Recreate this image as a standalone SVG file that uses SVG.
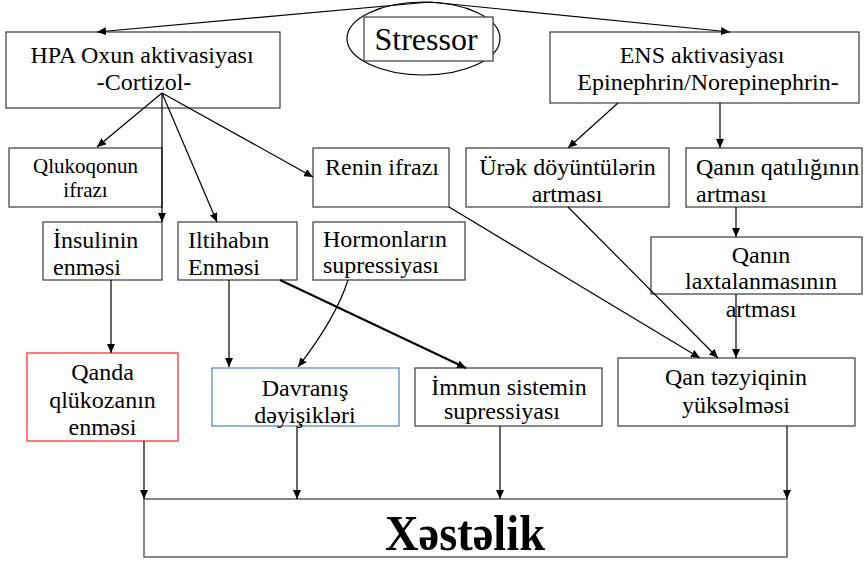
<svg xmlns="http://www.w3.org/2000/svg" width="866" height="562" viewBox="0 0 866 562">
<style>
.box{fill:#fff;stroke:#3a3a3a;stroke-width:1.2}
.red{fill:#fff;stroke:#ff2020;stroke-width:1.2}
.blue{fill:#fff;stroke:#4f81bd;stroke-width:1.2}
.gray{fill:#fff;stroke:#555;stroke-width:1.4}
text{font-family:"Liberation Serif","DejaVu Serif",serif;font-size:24px;fill:#000}
.c{text-anchor:middle}
.s{text-anchor:start}
.con{fill:none;stroke:#000;stroke-width:1.2;marker-end:url(#ah)}
</style>
<defs>
<marker id="ah" markerUnits="userSpaceOnUse" markerWidth="10" markerHeight="8" refX="9" refY="4" orient="auto">
<path d="M0,0 L9,4 L0,8 z" fill="#000"/>
</marker>
</defs>
<rect width="866" height="562" fill="#fff"/>

<g id="stressor">
<ellipse cx="423.5" cy="38.5" rx="76.5" ry="36.5" fill="#fff" stroke="#000" stroke-width="1.2"/>
<rect class="box" x="364" y="17" width="129" height="44"/>
<text class="c" x="426" y="50" style="font-size:32px">Stressor</text>
</g>

<g id="hpa">
<rect class="box" x="6" y="32" width="274" height="76"/>
<text class="c" x="142" y="63">HPA Oxun aktivasiyası</text>
<text class="c" x="144" y="90">-Cortizol-</text>
</g>

<g id="ens">
<rect class="box" x="550" y="32" width="309" height="71"/>
<text class="c" x="702" y="63">ENS aktivasiyası</text>
<text class="c" x="708" y="90">Epinephrin/Norepinephrin-</text>
</g>

<g id="qlukoqonun">
<rect class="box" x="9" y="148" width="153" height="59"/>
<text class="c" x="85.5" y="173" style="font-size:21px">Qlukoqonun</text>
<text class="c" x="85.5" y="197" style="font-size:21px">ifrazı</text>
</g>

<g id="renin">
<rect class="box" x="313" y="148" width="136" height="59"/>
<text class="s" x="325" y="175">Renin ifrazı</text>
</g>

<g id="urek">
<rect class="box" x="466" y="148" width="203" height="59"/>
<text class="c" x="567.5" y="175">Ürək döyüntülərin</text>
<text class="c" x="567" y="202">artması</text>
</g>

<g id="qatiliq">
<rect class="box" x="686" y="148" width="176" height="59"/>
<text class="s" x="696" y="175">Qanın qatılığının</text>
<text class="s" x="696" y="202">artması</text>
</g>

<g id="insulin">
<rect class="box" x="43" y="222" width="119" height="58"/>
<text class="s" x="53" y="248">İnsulinin</text>
<text class="s" x="53" y="275">enməsi</text>
</g>

<g id="iltihab">
<rect class="box" x="178" y="222" width="119" height="58"/>
<text class="s" x="188" y="248">Iltihabın</text>
<text class="s" x="188" y="275">Enməsi</text>
</g>

<g id="hormon">
<rect class="box" x="313" y="222" width="152" height="58"/>
<text class="s" x="323" y="247">Hormonların</text>
<text class="s" x="323" y="273">supressiyası</text>
</g>

<g id="laxtalanma">
<rect class="box" x="651" y="237" width="211" height="57"/>
<text class="c" x="761" y="263">Qanın</text>
<text class="c" x="761" y="289">laxtalanmasının</text>
<text class="c" x="761" y="317">artması</text>
</g>

<g id="qanda">
<rect class="red" x="27" y="353" width="151" height="88"/>
<text class="c" x="102.5" y="380">Qanda</text>
<text class="c" x="102.5" y="408">qlükozanın</text>
<text class="c" x="102.5" y="435">enməsi</text>
</g>

<g id="davranis">
<rect class="blue" x="212" y="368" width="187" height="58"/>
<text class="c" x="305" y="396">Davranış</text>
<text class="c" x="305" y="423">dəyişikləri</text>
</g>

<g id="immun">
<rect class="box" x="415" y="368" width="187" height="58"/>
<text class="c" x="509" y="395">İmmun sistemin</text>
<text class="c" x="502" y="419">supressiyası</text>
</g>

<g id="tezyiq">
<rect class="box" x="618" y="358" width="237" height="68"/>
<text class="c" x="736" y="385">Qan təzyiqinin</text>
<text class="c" x="736" y="413">yüksəlməsi</text>
</g>

<g id="xestelik">
<rect class="gray" x="144" y="499" width="643" height="58"/>
<text class="c" x="465" y="550" style="font-size:50px;font-weight:bold" textLength="160" lengthAdjust="spacingAndGlyphs">Xəstəlik</text>
</g>

<g id="connectors">
<line class="con" x1="430" y1="2" x2="97" y2="32"/>
<line class="con" x1="430" y1="2" x2="730" y2="32"/>
<line class="con" x1="162" y1="93" x2="97" y2="147"/>
<line class="con" x1="162" y1="93" x2="162" y2="222"/>
<line class="con" x1="162" y1="93" x2="217" y2="222"/>
<line class="con" x1="162" y1="93" x2="313" y2="177"/>
<line class="con" x1="618" y1="103" x2="568" y2="148"/>
<line class="con" x1="720" y1="103" x2="720" y2="148"/>
<line class="con" x1="736" y1="207" x2="736" y2="237"/>
<line class="con" x1="736" y1="294" x2="736" y2="358"/>
<line class="con" x1="449" y1="207" x2="700" y2="358"/>
<line class="con" x1="568" y1="207" x2="718" y2="358"/>
<line class="con" x1="111" y1="280" x2="111" y2="353"/>
<line class="con" x1="229" y1="280" x2="229" y2="367"/>
<line class="con" x1="280" y1="280" x2="466" y2="368" style="stroke-width:2"/>
<path class="con" d="M348,280 Q336,318 298,367"/>
<line class="con" x1="144" y1="441" x2="144" y2="499"/>
<line class="con" x1="297" y1="426" x2="297" y2="499"/>
<line class="con" x1="500" y1="426" x2="500" y2="499"/>
<line class="con" x1="787" y1="426" x2="787" y2="499"/>
</g>
</svg>
